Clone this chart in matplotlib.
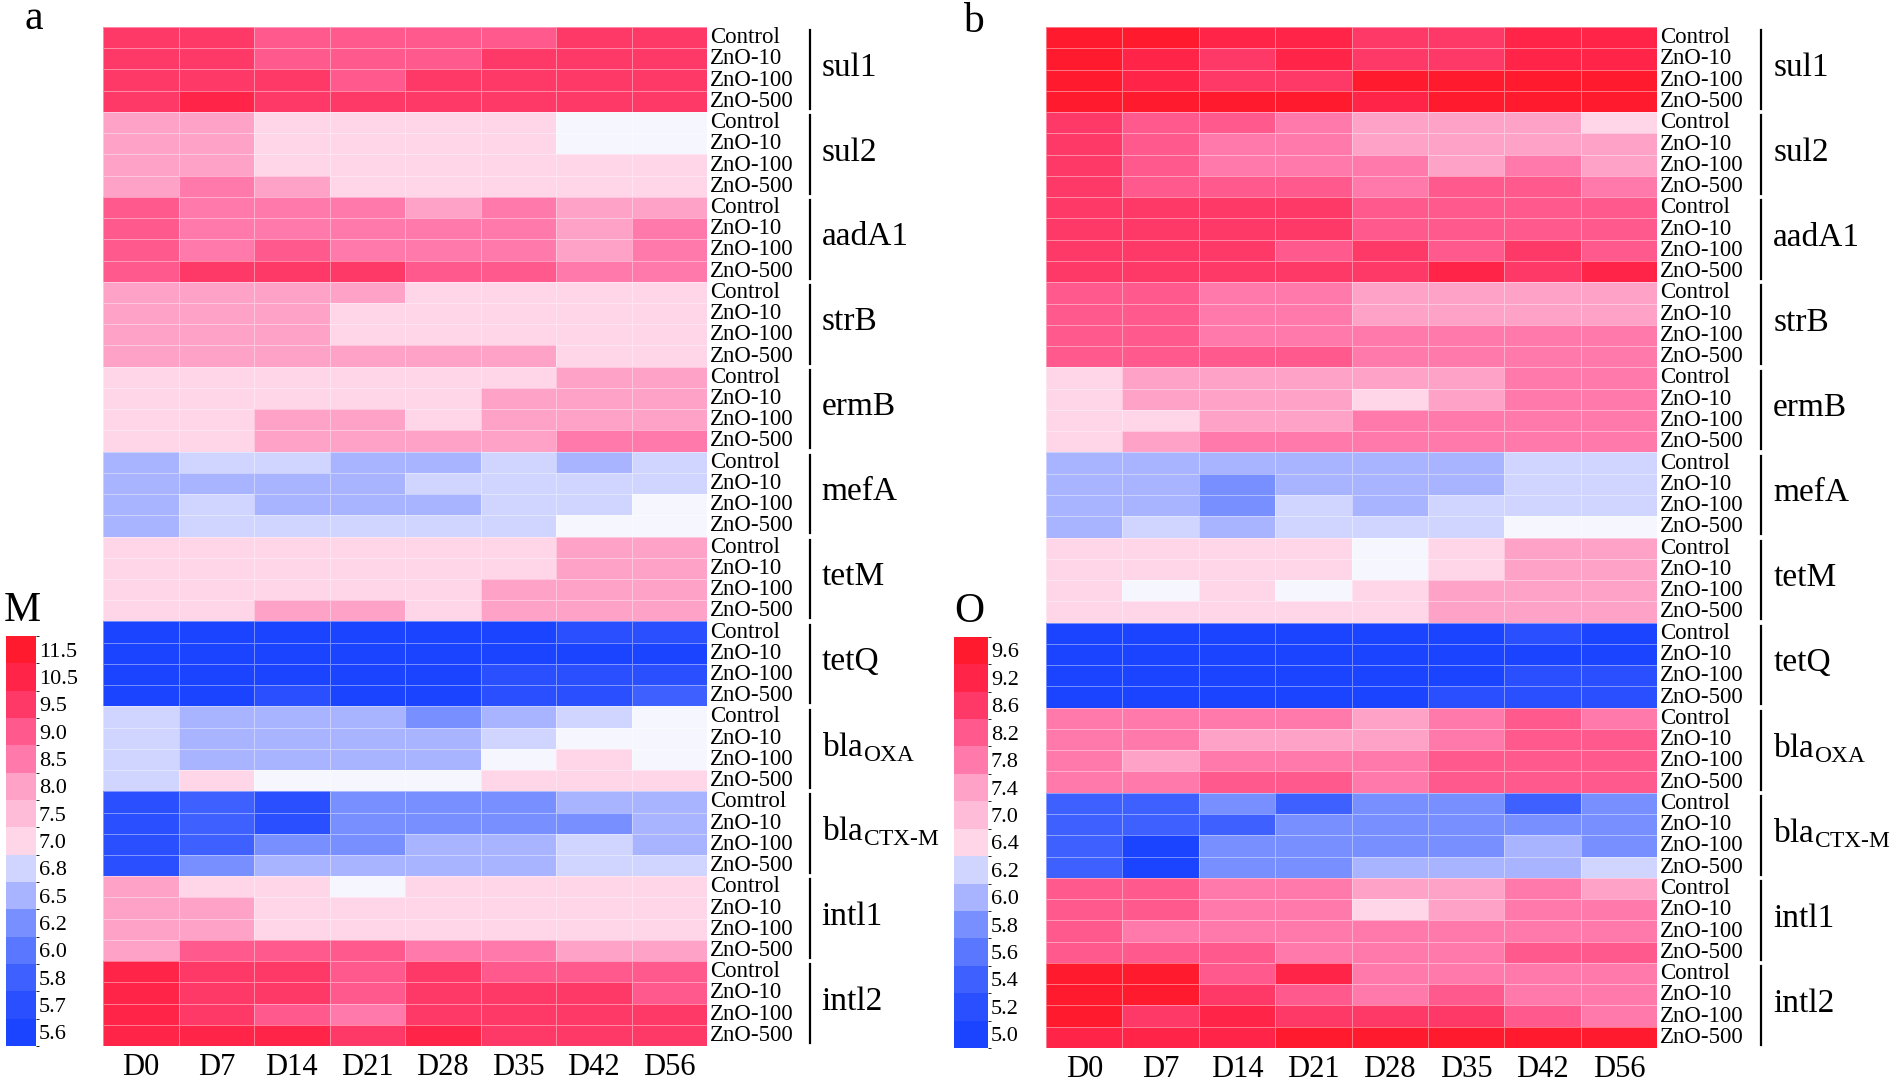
import numpy as np
import matplotlib
matplotlib.use("Agg")
import matplotlib.pyplot as plt
from matplotlib.colors import LinearSegmentedColormap, ListedColormap, BoundaryNorm, FuncNorm
from matplotlib.cm import ScalarMappable
from matplotlib.transforms import blended_transform_factory

plt.rcParams['font.family'] = ['Liberation Serif', 'DejaVu Serif']
plt.rcParams['mathtext.fontset'] = 'custom'
plt.rcParams['mathtext.rm'] = 'Liberation Serif'

days = ['D0', 'D7', 'D14', 'D21', 'D28', 'D35', 'D42', 'D56']
treat = ['Control', 'ZnO-10', 'ZnO-100', 'ZnO-500']
treat_ctx_a = ['Comtrol', 'ZnO-10', 'ZnO-100', 'ZnO-500']
genes = ['sul1', 'sul2', 'aadA1', 'strB', 'ermB', 'mefA', 'tetM', 'tetQ',
         r'bla$_{\mathrm{OXA}}$', r'bla$_{\mathrm{CTX\text{-}M}}$', 'intl1', 'intl2']

ticks_a = [5.6, 5.7, 5.8, 6.0, 6.2, 6.5, 6.8, 7.0, 7.5, 8.0, 8.5, 9.0, 9.5, 10.5, 11.5]
ticks_b = [5.0, 5.2, 5.4, 5.6, 5.8, 6.0, 6.2, 6.4, 7.0, 7.4, 7.8, 8.2, 8.6, 9.2, 9.6]

# ---- panel a (M) ----
sul1_a = [[9.5, 9.5, 9.0, 9.0, 9.0, 9.0, 9.5, 9.5],
          [9.5, 9.5, 9.0, 9.0, 9.0, 9.5, 9.5, 9.5],
          [9.5, 9.5, 9.5, 9.0, 9.5, 9.5, 9.5, 9.5],
          [9.5, 10.5, 9.5, 9.5, 9.5, 9.5, 9.5, 9.5]]
sul2_a = [[8.0, 8.0, 7.0, 7.0, 7.0, 7.0, 6.9, 6.9],
          [8.0, 8.0, 7.0, 7.0, 7.0, 7.0, 6.9, 6.9],
          [8.0, 8.0, 7.0, 7.0, 7.0, 7.0, 7.0, 7.0],
          [8.0, 8.5, 8.0, 7.0, 7.0, 7.0, 7.0, 7.0]]
aadA1_a = [[9.0, 8.5, 8.5, 8.5, 8.0, 8.5, 8.0, 8.0],
           [9.0, 8.5, 8.5, 8.5, 8.5, 8.5, 8.0, 8.5],
           [9.0, 8.5, 9.0, 8.5, 8.5, 8.5, 8.0, 8.5],
           [9.0, 9.5, 9.5, 9.5, 9.0, 9.0, 8.5, 8.5]]
strB_a = [[8.0, 8.0, 8.0, 8.0, 7.0, 7.0, 7.0, 7.0],
          [8.0, 8.0, 8.0, 7.0, 7.0, 7.0, 7.0, 7.0],
          [8.0, 8.0, 8.0, 7.0, 7.0, 7.0, 7.0, 7.0],
          [8.0, 8.0, 8.0, 8.0, 8.0, 8.0, 7.0, 7.0]]
ermB_a = [[7.0, 7.0, 7.0, 7.0, 7.0, 7.0, 8.0, 8.0],
          [7.0, 7.0, 7.0, 7.0, 7.0, 8.0, 8.0, 8.0],
          [7.0, 7.0, 8.0, 8.0, 7.0, 8.0, 8.0, 8.0],
          [7.0, 7.0, 8.0, 8.0, 8.0, 8.0, 8.5, 8.5]]
mefA_a = [[6.5, 6.8, 6.8, 6.5, 6.5, 6.8, 6.5, 6.8],
          [6.5, 6.5, 6.5, 6.5, 6.8, 6.8, 6.8, 6.8],
          [6.5, 6.8, 6.5, 6.5, 6.5, 6.8, 6.8, 6.9],
          [6.5, 6.8, 6.8, 6.8, 6.8, 6.8, 6.9, 6.9]]
tetM_a = [[7.0, 7.0, 7.0, 7.0, 7.0, 7.0, 8.0, 8.0],
          [7.0, 7.0, 7.0, 7.0, 7.0, 7.0, 8.0, 8.0],
          [7.0, 7.0, 7.0, 7.0, 7.0, 8.0, 8.0, 8.0],
          [7.0, 7.0, 8.0, 8.0, 7.0, 8.0, 8.0, 8.0]]
tetQ_a = [[5.6, 5.6, 5.6, 5.6, 5.6, 5.6, 5.7, 5.7],
          [5.6, 5.6, 5.6, 5.6, 5.6, 5.6, 5.6, 5.6],
          [5.6, 5.6, 5.6, 5.6, 5.6, 5.7, 5.7, 5.7],
          [5.6, 5.6, 5.7, 5.6, 5.6, 5.7, 5.7, 5.8]]
blaOXA_a = [[6.8, 6.5, 6.5, 6.5, 6.2, 6.5, 6.8, 6.9],
            [6.8, 6.5, 6.5, 6.5, 6.5, 6.8, 6.9, 6.9],
            [6.8, 6.5, 6.5, 6.5, 6.5, 6.9, 7.0, 6.9],
            [6.8, 7.0, 6.9, 6.9, 6.9, 7.0, 7.0, 7.0]]
blaCTX_a = [[5.7, 5.8, 5.7, 6.2, 6.2, 6.2, 6.5, 6.5],
            [5.7, 5.8, 5.7, 6.2, 6.2, 6.2, 6.2, 6.5],
            [5.7, 5.8, 6.2, 6.2, 6.5, 6.5, 6.8, 6.5],
            [5.7, 6.2, 6.5, 6.5, 6.5, 6.5, 6.8, 6.8]]
intl1_a = [[8.0, 7.0, 7.0, 6.9, 7.0, 7.0, 7.0, 7.0],
           [8.0, 8.0, 7.0, 7.0, 7.0, 7.0, 7.0, 7.0],
           [8.0, 8.0, 7.0, 7.0, 7.0, 7.0, 7.0, 7.0],
           [8.0, 9.0, 9.0, 9.0, 8.5, 8.5, 8.0, 8.0]]
intl2_a = [[10.5, 9.5, 9.5, 9.0, 9.5, 9.0, 9.0, 9.0],
           [10.5, 9.5, 9.5, 9.0, 9.5, 9.5, 9.5, 9.0],
           [10.5, 9.5, 9.0, 8.5, 9.5, 9.5, 9.5, 9.5],
           [10.5, 10.5, 10.5, 9.5, 10.5, 9.5, 9.5, 9.5]]

# ---- panel b (O) ----
sul1_b = [[9.6, 9.6, 9.2, 9.2, 8.6, 8.6, 9.2, 9.2],
          [9.6, 9.2, 8.6, 9.2, 8.6, 8.6, 9.2, 9.2],
          [9.6, 9.2, 8.6, 8.6, 9.6, 9.6, 9.6, 9.6],
          [9.6, 9.6, 9.6, 9.6, 9.2, 9.6, 9.6, 9.6]]
sul2_b = [[8.6, 8.2, 8.2, 7.8, 7.4, 7.4, 7.4, 6.4],
          [8.6, 8.2, 7.8, 7.8, 7.4, 7.4, 7.4, 7.4],
          [8.6, 8.2, 7.8, 7.8, 7.8, 7.4, 7.8, 7.4],
          [8.6, 8.2, 8.2, 8.2, 7.8, 8.2, 8.2, 7.8]]
aadA1_b = [[8.6, 8.6, 8.6, 8.6, 8.2, 8.2, 8.2, 8.2],
           [8.6, 8.6, 8.6, 8.6, 8.2, 8.2, 8.2, 8.2],
           [8.6, 8.6, 8.6, 8.2, 8.6, 8.2, 8.6, 8.2],
           [8.6, 8.6, 8.6, 8.6, 8.6, 9.2, 8.6, 9.2]]
strB_b = [[8.2, 8.2, 7.8, 7.8, 7.4, 7.4, 7.4, 7.4],
          [8.2, 8.2, 7.8, 7.8, 7.4, 7.4, 7.4, 7.4],
          [8.2, 8.2, 7.8, 7.8, 7.8, 7.8, 7.8, 7.8],
          [8.2, 8.2, 8.2, 8.2, 7.8, 7.8, 7.8, 7.8]]
ermB_b = [[6.4, 7.4, 7.4, 7.4, 7.4, 7.4, 7.8, 7.8],
          [6.4, 7.4, 7.4, 7.4, 6.4, 7.4, 7.8, 7.8],
          [6.4, 6.4, 7.4, 7.4, 7.8, 7.8, 7.8, 7.8],
          [6.4, 7.4, 7.8, 7.8, 7.8, 7.8, 7.8, 7.8]]
mefA_b = [[6.0, 6.0, 6.0, 6.0, 6.0, 6.0, 6.2, 6.2],
          [6.0, 6.0, 5.8, 6.0, 6.0, 6.0, 6.2, 6.2],
          [6.0, 6.0, 5.8, 6.2, 6.0, 6.2, 6.2, 6.2],
          [6.0, 6.2, 6.0, 6.2, 6.2, 6.2, 6.3, 6.3]]
tetM_b = [[6.4, 6.4, 6.4, 6.4, 6.3, 6.4, 7.4, 7.4],
          [6.4, 6.4, 6.4, 6.4, 6.3, 6.4, 7.4, 7.4],
          [6.4, 6.3, 6.4, 6.3, 6.4, 7.4, 7.4, 7.4],
          [6.4, 6.4, 6.4, 6.4, 6.4, 7.4, 7.4, 7.4]]
tetQ_b = [[5.0, 5.0, 5.0, 5.0, 5.0, 5.0, 5.2, 5.0],
          [5.0, 5.0, 5.0, 5.0, 5.0, 5.0, 5.0, 5.0],
          [5.0, 5.0, 5.0, 5.0, 5.0, 5.0, 5.2, 5.2],
          [5.0, 5.0, 5.0, 5.0, 5.0, 5.2, 5.2, 5.2]]
blaOXA_b = [[7.8, 7.8, 7.8, 7.8, 7.4, 7.8, 8.2, 7.8],
            [7.8, 7.8, 7.4, 7.4, 7.4, 7.8, 8.2, 8.2],
            [7.8, 7.4, 7.8, 7.8, 7.8, 8.2, 8.2, 8.2],
            [7.8, 7.8, 8.2, 8.2, 7.8, 8.2, 8.2, 8.2]]
blaCTX_b = [[5.4, 5.4, 5.8, 5.4, 5.8, 5.8, 5.4, 5.8],
            [5.4, 5.4, 5.4, 5.8, 5.8, 5.8, 5.8, 5.8],
            [5.4, 5.0, 5.8, 5.8, 5.8, 5.8, 6.0, 5.8],
            [5.4, 5.0, 5.8, 5.8, 6.0, 6.0, 6.0, 6.2]]
intl1_b = [[8.2, 8.2, 7.8, 7.8, 7.4, 7.4, 7.8, 7.4],
           [8.2, 8.2, 7.8, 7.8, 6.4, 7.4, 7.8, 7.8],
           [8.2, 7.8, 7.8, 7.8, 7.8, 7.8, 7.8, 7.8],
           [8.2, 8.2, 8.2, 7.8, 7.8, 7.8, 8.2, 8.2]]
intl2_b = [[9.6, 9.6, 8.2, 9.2, 7.8, 7.8, 7.8, 7.8],
           [9.6, 9.6, 8.6, 8.2, 7.8, 8.2, 7.8, 7.8],
           [9.6, 8.6, 9.2, 8.6, 8.6, 8.6, 8.2, 7.8],
           [9.2, 9.2, 9.2, 9.6, 9.6, 9.6, 9.6, 9.6]]

data_a = np.vstack([sul1_a, sul2_a, aadA1_a, strB_a, ermB_a, mefA_a, tetM_a, tetQ_a,
                    blaOXA_a, blaCTX_a, intl1_a, intl2_a])
data_b = np.vstack([sul1_b, sul2_b, aadA1_b, strB_b, ermB_b, mefA_b, tetM_b, tetQ_b,
                    blaOXA_b, blaCTX_b, intl1_b, intl2_b])

# blue -> white -> red, anchored at the 15 legend steps (white sits between step 6 and 7)
anchor_pos = [0, 1, 2, 3, 4, 5, 6, 6.5, 7, 8, 9, 10, 11, 12, 13, 14]
anchor_col = ['#1a44ff', '#2a4fff', '#3d60ff', '#5a78ff', '#7890ff', '#a8b4ff', '#d0d6ff',
              '#f8f8fe', '#ffd6e8', '#ffbcd8', '#ffa2c8', '#ff7aaa', '#ff5a8e', '#ff3a68',
              '#ff2448', '#ff1a2e']
cmap = LinearSegmentedColormap.from_list(
    'bwr_steps', [(p / 14, c) for p, c in zip(anchor_pos, anchor_col)])
step_cmap = ListedColormap(cmap(np.arange(15) / 14))


def step_norm(ticks):
    idx = np.arange(len(ticks), dtype=float)
    fwd = lambda v: np.interp(np.asarray(v, dtype=float), ticks, idx)
    inv = lambda i: np.interp(np.asarray(i, dtype=float), idx, ticks)
    return FuncNorm((fwd, inv), vmin=ticks[0], vmax=ticks[-1])


fig = plt.figure(figsize=(18.94, 10.85), dpi=100)

panels = [
    (data_a, ticks_a, [0.0544, 0.0359, 0.3189, 0.9392], [0.0032, 0.0359, 0.0158, 0.378],
     'a', (0.018, 0.983), 'M', (0.0116, 0.437)),
    (data_b, ticks_b, [0.5523, 0.0341, 0.3226, 0.941], [0.5037, 0.0341, 0.018, 0.379],
     'b', (0.514, 0.980), 'O', (0.512, 0.436)),
]

for k, (data, ticks, rect, crect, letter, lpos, ctitle, tpos) in enumerate(panels):
    ax = fig.add_axes(rect)
    ax.pcolormesh(data, cmap=cmap, norm=step_norm(ticks),
                  edgecolors=(1, 1, 1, 0.4), linewidth=0.7)
    ax.set_ylim(data.shape[0], 0)
    ax.set_xlim(0, data.shape[1])
    for s in ax.spines.values():
        s.set_visible(False)
    ax.set_xticks(np.arange(len(days)) + 0.5)
    ax.set_xticklabels(days, fontsize=22)
    ax.set_yticks([])
    ax.tick_params(axis='x', length=0, pad=5)

    trans = blended_transform_factory(ax.transAxes, ax.transData)
    for g, gene in enumerate(genes):
        labels = treat_ctx_a if (k == 0 and g == 9) else treat
        for r, lab in enumerate(labels):
            ax.text(1.005, 4 * g + r + 0.5, lab, transform=trans, fontsize=16.5,
                    ha='left', va='center')
        ax.plot([1.17, 1.17], [4 * g + 0.15, 4 * g + 3.85], transform=trans,
                color='black', lw=1.6, clip_on=False)
        ax.text(1.19, 4 * g + 1.9, gene, transform=trans, fontsize=24,
                ha='left', va='center')

    cax = fig.add_axes(crect)
    cb = fig.colorbar(ScalarMappable(BoundaryNorm(np.arange(16), 15), step_cmap),
                      cax=cax, ticks=np.arange(15) + 0.5)
    cb.set_ticklabels([f'{t:.1f}' for t in ticks])
    cb.outline.set_visible(False)
    cax.tick_params(length=0, pad=2, labelsize=16)

    fig.text(lpos[0], lpos[1], letter, fontsize=30, ha='center', va='center')
    fig.text(tpos[0], tpos[1], ctitle, fontsize=30, ha='center', va='center')

fig.savefig('out.png', dpi=100)
